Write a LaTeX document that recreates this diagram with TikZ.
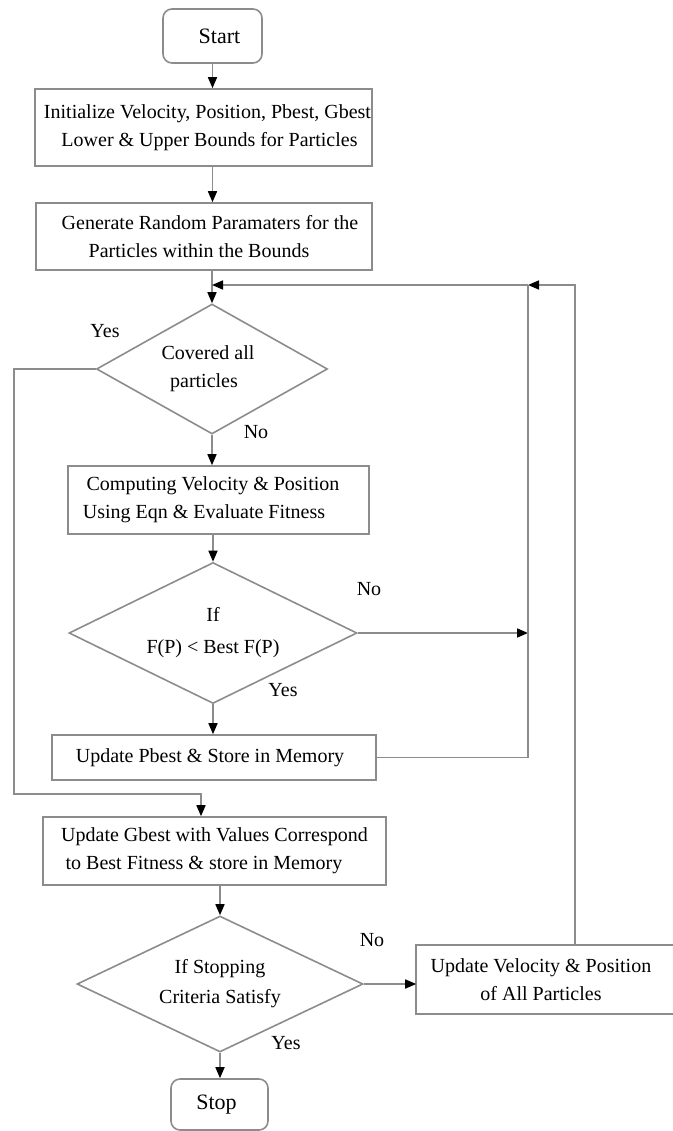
\documentclass[tikz,border=0pt]{standalone}
\usepackage{fontspec}
\setmainfont{Liberation Serif}
\usetikzlibrary{shapes.geometric,arrows.meta,calc}
\definecolor{linegray}{RGB}{140,140,140}
\tikzset{
  box/.style={draw=linegray, line width=1.6pt, rectangle, align=center, inner sep=0pt,
    font=\fontsize{20}{28}\selectfont},
  decision/.style={draw=linegray, line width=1.6pt, diamond, align=center, inner sep=0pt,
    font=\fontsize{20}{28}\selectfont},
  term/.style={box, rounded corners=9pt, font=\fontsize{22}{26}\selectfont},
  link/.style={draw=linegray, line width=1.6pt},
  arr/.style={link, -{Triangle[length=11pt,width=9pt,color=black]}},
  lbl/.style={font=\fontsize{20}{22}\selectfont, inner sep=0pt}
}
\begin{document}
\begin{tikzpicture}[x=1pt,y=-1pt]
\useasboundingbox (0,0) rectangle (672,1131);
% main column
\node[term, minimum width=99, minimum height=54] (start) at (212.5,36) {\hspace*{14pt}Start};
\node[box, minimum width=337, minimum height=77] (init) at (203.5,127.5)
  {\hspace*{8pt}Initialize Velocity, Position, Pbest, Gbest\\
   \hspace*{12pt}Lower \& Upper Bounds for Particles};
\node[box, minimum width=336, minimum height=67] (gen) at (204,236.5)
  {\hspace*{12pt}Generate Random Paramaters for the\\Particles within the Bounds\hspace*{10pt}};
\node[decision, aspect=1.78, minimum width=231, minimum height=130] (cover) at (212,369)
  {Covered all\hspace*{8pt}\\particles\hspace*{16pt}};
\node[box, minimum width=301, minimum height=68] (comp) at (218.5,500)
  {Computing Velocity \& Position\hspace*{11pt}\\Using Eqn \& Evaluate Fitness\hspace*{29pt}};
\node[decision, aspect=2.04, minimum width=288, minimum height=141] (cmp) at (213,633)
  {If\\[4pt]F(P) < Best F(P)};
\node[box, minimum width=324, minimum height=45] (pbest) at (214,757.5)
  {Update Pbest \& Store in Memory\hspace*{8pt}};
\node[box, minimum width=343, minimum height=68] (gbest) at (214.5,851)
  {Update Gbest with Values Correspond\\to Best Fitness \& store in Memory\hspace*{21pt}};
\node[decision, aspect=2.1, minimum width=286, minimum height=136] (crit) at (220,984)
  {If Stopping\\[2pt]Criteria Satisfy};
\node[term, minimum width=97, minimum height=51] (stop) at (219.5,1104.5) {Stop\hspace*{6pt}};
% side box, cut by the right edge
\node[box, draw=none, minimum width=248, minimum height=67] (upd) at (541,979.5)
  {Update Velocity \& Position\\of All Particles};
\draw[link] ($(upd.north east)+(30,0)$) -- (upd.north west) -- (upd.south west)
  -- ($(upd.south east)+(30,0)$);
% rails
\coordinate (loopR) at (575,285);
\coordinate (loopM) at (528,285);
\coordinate (rail) at (14,794);
\coordinate (yesturn) at (201,794);
% connectors
\draw[arr] (start.south) -- (start.south |- init.north);
\draw[arr] (init.south -| start.south) -- (start.south |- gen.north);
\draw[arr] (gen.south -| cover.north) -- (cover.north);
\draw[arr] (loopR |- upd.north) -- (loopR) -- (loopM);
\draw[arr] (loopM) -- (loopM -| cover.north);
\draw[arr] (cover.west) -| (rail) -- (yesturn) -- (yesturn |- gbest.north);
\draw[arr] (cover.south) -- (cover.south |- comp.north);
\draw[arr] (comp.south -| cmp.north) -- (cmp.north);
\draw[arr] (cmp.east) -- (cmp.east -| loopM);
\draw[arr] (cmp.south) -- (cmp.south |- pbest.north);
\draw[link] (pbest.east) -- (pbest.east -| loopM) -- (loopM);
\draw[arr] (gbest.south -| crit.north) -- (crit.north);
\draw[arr] (crit.east) -- (crit.east -| upd.west);
\draw[arr] (crit.south) -- (crit.south |- stop.north);
% labels
\node[lbl] (ycover) at (105,331) {Yes};
\node[lbl] (ncover) at (256,432) {No};
\node[lbl] (ncmp) at (369,589) {No};
\node[lbl] (ycmp) at (283,690) {Yes};
\node[lbl] (ncrit) at (372,940) {No};
\node[lbl] (ycrit) at (286,1043) {Yes};
\end{tikzpicture}
\end{document}
